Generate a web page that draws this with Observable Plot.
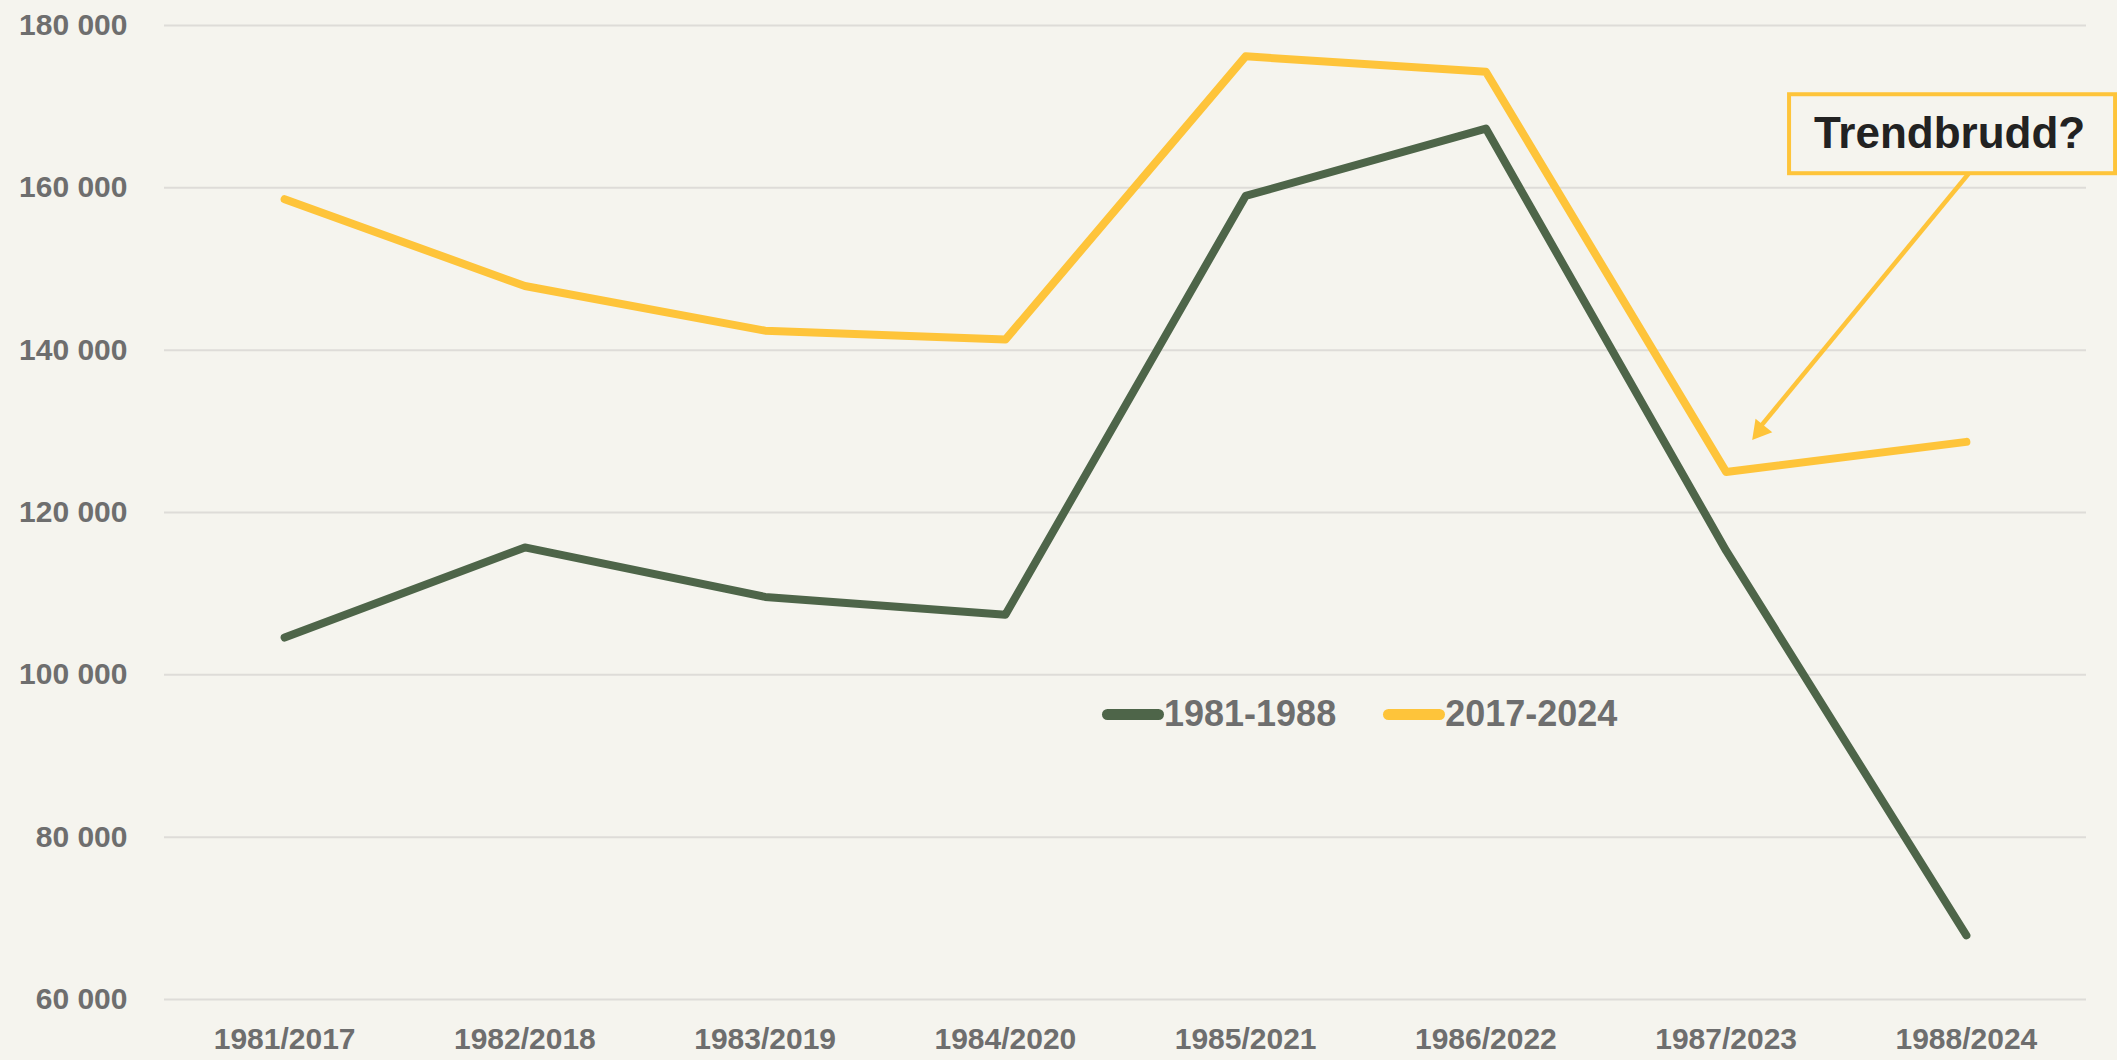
<!DOCTYPE html>
<html>
<head>
<meta charset="utf-8">
<script src="https://cdn.jsdelivr.net/npm/d3@7"></script>
<script src="https://cdn.jsdelivr.net/npm/@observablehq/plot@0.6"></script>
<style>
  html, body { margin: 0; padding: 0; background: #f5f4ee; }
  #wrap { position: relative; width: 2117px; height: 1060px; font-family: "Liberation Sans", Arial, sans-serif; }
  #legend { position: absolute; left: 1102px; top: 693px; display: flex; align-items: center; font-weight: bold; font-size: 36px; color: #6e6e6e; }
  .item { display: flex; align-items: center; margin-right: 47px; }
  .sw { width: 62px; height: 11px; border-radius: 6px; }
</style>
</head>
<body>
<div id="wrap"></div>
<script>
// ---- Data ----
const periods = ["1981/2017", "1982/2018", "1983/2019", "1984/2020", "1985/2021", "1986/2022", "1987/2023", "1988/2024"];
const series1981 = [104600, 115700, 109600, 107400, 159000, 167300, 115300, 67900];
const series2017 = [158600, 147900, 142400, 141300, 176200, 174300, 125000, 128700];
const seriesNames = ["1981-1988", "2017-2024"];
const seriesColors = ["#4e6549", "#fec43a"];
const yTicks = [60000, 80000, 100000, 120000, 140000, 160000, 180000];
const annotationText = ["Trendbrudd?"];
// annotation anchored in data space (x as period index, y as value)
const annotBox = [{x1: 6.264, x2: 7.621, y1: 171470, y2: 161740}];
const annotLabel = [{x: 6.93, y: 166600, text: annotationText[0]}];
const annotArrow = [{x1: 7.009, y1: 161740, x2: 6.135, y2: 130300}];
const annotHead = [{x: 6.141, y: 130124}];

const rows = [];
periods.forEach((p, i) => {
  rows.push({i, period: p, series: seriesNames[0], value: series1981[i]});
  rows.push({i, period: p, series: seriesNames[1], value: series2017[i]});
});

const fmt = d => d3.format(",")(d).replace(/,/g, " ");
const font = "'Liberation Sans', Arial, sans-serif";

const chart = Plot.plot({
  width: 2117,
  height: 1060,
  marginLeft: 164,
  marginRight: 31,
  marginTop: 25,
  marginBottom: 61,
  style: {background: "transparent", fontFamily: font},
  x: {type: "linear", domain: [-0.5, 7.5], axis: null},
  y: {domain: [60000, 180000], axis: null},
  marks: [
    Plot.ruleY(yTicks, {stroke: "#dedcd8", strokeWidth: 2}),
    Plot.axisY({ticks: yTicks, tickFormat: fmt, tickSize: 0, tickPadding: 37, fontSize: 30, fontWeight: "bold", fill: "#6e6e6e", label: null}),
    Plot.axisX({ticks: d3.range(periods.length), tickFormat: i => periods[i], tickSize: 0, tickPadding: 28, fontSize: 30, fontWeight: "bold", fill: "#6e6e6e", label: null}),
    Plot.line(rows.filter(d => d.series === seriesNames[0]), {x: "i", y: "value", stroke: seriesColors[0], strokeWidth: 8, strokeLinecap: "round", strokeLinejoin: "round"}),
    Plot.line(rows.filter(d => d.series === seriesNames[1]), {x: "i", y: "value", stroke: seriesColors[1], strokeWidth: 8, strokeLinecap: "round", strokeLinejoin: "round"}),
    Plot.link(annotArrow, {x1: "x1", y1: "y1", x2: "x2", y2: "y2", stroke: seriesColors[1], strokeWidth: 4.5}),
    Plot.dot(annotHead, {x: "x", y: "y", symbol: "triangle", r: 8, rotate: 219, fill: seriesColors[1], stroke: "none"}),
    Plot.rect(annotBox, {x1: "x1", x2: "x2", y1: "y1", y2: "y2", fill: "#f5f4ee", stroke: seriesColors[1], strokeWidth: 4}),
    Plot.text(annotLabel, {x: "x", y: "y", text: "text", fontSize: 44, fontWeight: "bold", fill: "#222222"})
  ]
});

const wrap = document.getElementById("wrap");
wrap.appendChild(chart);

const legend = document.createElement("div");
legend.id = "legend";
seriesNames.forEach((name, k) => {
  const item = document.createElement("div");
  item.className = "item";
  const sw = document.createElement("div");
  sw.className = "sw";
  sw.style.background = seriesColors[k];
  const t = document.createElement("span");
  t.textContent = name;
  item.appendChild(sw);
  item.appendChild(t);
  legend.appendChild(item);
});
wrap.appendChild(legend);
</script>
</body>
</html>
